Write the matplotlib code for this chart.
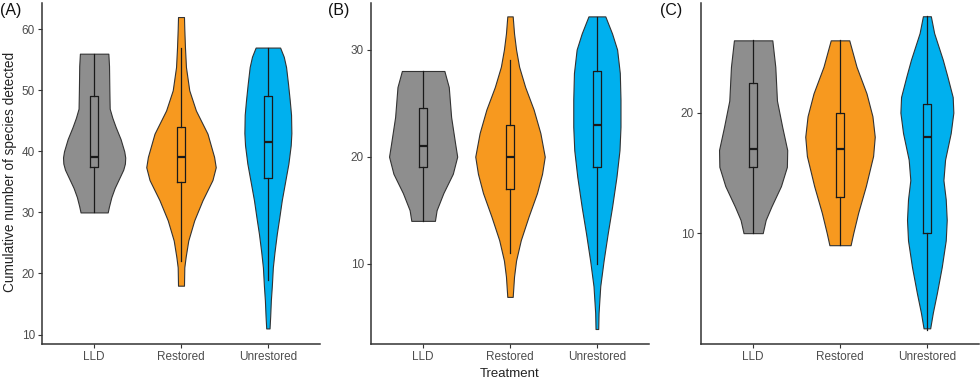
import matplotlib
matplotlib.use("Agg")
import matplotlib.pyplot as plt
import numpy as np

plt.rcParams['font.family'] = ['Liberation Sans', 'DejaVu Sans']

groups = ['LLD', 'Restored', 'Unrestored']
colors = ['#8E8E8E', '#F7991F', '#00B0EE']

# violin profiles: value levels and relative density
a_lld_y = [30, 31, 32.5, 34, 35.5, 37, 38, 39, 40, 42, 44, 45.5, 47, 50, 54, 56]
a_lld_d = [41, 45, 52, 62, 75, 88, 93, 94, 91, 80, 65, 55, 47, 46, 45, 43]
a_res_y = [18, 21, 22.7, 25.4, 28.7, 32, 35.3, 37.4, 39.1, 42.9, 46.7, 50, 53.8, 57, 60, 62]
a_res_d = [9, 10, 14, 22, 40, 65, 95, 105, 100, 80, 45, 25, 15, 12, 10, 9]
a_unr_y = [11, 13, 15.6, 18, 21, 23.5, 26.5, 29, 32, 35, 38, 41, 43, 46, 48.4, 51, 53.8, 55.5, 57]
a_unr_d = [5, 7, 9, 12, 15, 20, 27, 34, 42, 52, 62, 69, 71, 70, 66, 61, 55, 48, 37]

b_lld_y = [14, 15, 16.6, 18.4, 20, 21.2, 23.7, 26.5, 28]
b_lld_d = [35, 40, 60, 88, 101, 95, 83, 76, 63]
b_res_y = [6.9, 8.8, 10.3, 12.2, 14.4, 16.6, 18.4, 20, 22.2, 24.4, 26.5, 28.4, 30, 31.5, 33.1]
b_res_d = [8, 12, 18, 32, 55, 80, 95, 103, 90, 70, 45, 27, 18, 12, 8]
b_unr_y = [3.9, 5.4, 7.9, 10.3, 12.8, 15.3, 18.1, 20.6, 22.8, 25.3, 27.8, 30, 31.5, 33.1]
b_unr_d = [4, 5, 10, 20, 32, 45, 58, 67, 70, 70, 68, 60, 45, 25]

c_lld_y = [10, 11.1, 12.2, 13.9, 15.5, 16.9, 18.8, 21, 23.8, 26]
c_lld_d = [29, 38, 55, 84, 102, 103, 88, 72, 67, 58]
c_res_y = [9, 10, 11.7, 13.9, 16.4, 18, 19.7, 21.6, 23.8, 26]
c_res_d = [32, 40, 55, 78, 100, 105, 98, 80, 50, 28]
c_unr_y = [2.1, 3.4, 5, 7.2, 9.4, 11.1, 12.8, 14.4, 16.1, 18.3, 20, 21.3, 23, 24.4, 26.6, 28]
c_unr_d = [10, 18, 30, 45, 57, 60, 57, 50, 55, 72, 80, 78, 62, 48, 22, 12]

# boxplot summaries (whisker low, q1, median, q3, whisker high)
a_lo, a_q1, a_med, a_q3, a_hi = [30, 22, 19], [37.5, 35, 35.7], [39, 39, 41.5], [49, 44, 49], [56, 57, 57]
b_lo, b_q1, b_med, b_q3, b_hi = [14, 11, 10], [19, 17, 19], [21, 20, 23], [24.5, 23, 28], [28, 29, 33]
c_lo, c_q1, c_med, c_q3, c_hi = [10, 9, 2], [15.5, 13, 10], [17, 17, 18], [22.5, 20, 20.7], [26, 26, 28]

a_ticks = [10, 20, 30, 40, 50, 60]
b_ticks = [10, 20, 30]
c_ticks = [10, 20]

panels = [
    ('(A)', [(a_lld_y, a_lld_d), (a_res_y, a_res_d), (a_unr_y, a_unr_d)],
     (a_lo, a_q1, a_med, a_q3, a_hi), a_ticks, (8.45, 64.3)),
    ('(B)', [(b_lld_y, b_lld_d), (b_res_y, b_res_d), (b_unr_y, b_unr_d)],
     (b_lo, b_q1, b_med, b_q3, b_hi), b_ticks, (2.5, 34.35)),
    ('(C)', [(c_lld_y, c_lld_d), (c_res_y, c_res_d), (c_unr_y, c_unr_d)],
     (c_lo, c_q1, c_med, c_q3, c_hi), c_ticks, (0.8, 29.1)),
]

fig = plt.figure(figsize=(9.8, 3.82), dpi=100)
lefts = [42, 371, 701]
label_x = [0, 328, 660]
axw = 278
edge = '#333333'
ink = '#1a1a1a'

for i, (label, profiles, box, ticks, ylim) in enumerate(panels):
    ax = fig.add_axes([lefts[i] / 980, (382 - 344) / 382, axw / 980, 341 / 382])
    dmax = max(max(d) for _, d in profiles)
    for j, (yy, dd) in enumerate(profiles):
        hw = np.array(dd) / dmax * 0.40
        ax.fill_betweenx(yy, j + 1 - hw, j + 1 + hw, facecolor=colors[j],
                         edgecolor=edge, linewidth=0.8, zorder=2)
    lo, q1, med, q3, hi = box
    stats = [dict(whislo=lo[k], q1=q1[k], med=med[k], q3=q3[k], whishi=hi[k], label=groups[k])
             for k in range(3)]
    ax.bxp(stats, positions=[1, 2, 3], widths=0.1, showfliers=False, showcaps=False,
           boxprops=dict(color=ink, linewidth=0.9),
           whiskerprops=dict(color=ink, linewidth=0.9),
           medianprops=dict(color=ink, linewidth=1.6), zorder=3)
    ax.set_xlim(0.4, 3.6)
    ax.set_ylim(*ylim)
    ax.set_yticks(ticks)
    ax.set_xticks([1, 2, 3])
    ax.set_xticklabels(groups)
    for s in ['top', 'right']:
        ax.spines[s].set_visible(False)
    for s in ['left', 'bottom']:
        ax.spines[s].set_color(edge)
        ax.spines[s].set_linewidth(1.1)
    ax.tick_params(axis='both', colors=edge, length=3, width=0.8, labelsize=8.5,
                   labelcolor='#4d4d4d', pad=2)
    ax.patch.set_alpha(0)
    fig.text(label_x[i] / 980, 0.992, label,
             fontsize=11.5, va='top', ha='left', color='#111111')

fig.text(10 / 980, 1 - 172 / 382, 'Cumulative number of species detected', rotation=90,
         fontsize=9.8, va='center', ha='center', color='#222222')
fig.text(509.5 / 980, 1 - 374 / 382, 'Treatment', fontsize=9.5, va='center', ha='center',
         color='#222222')

fig.savefig('out.png', dpi=100)
